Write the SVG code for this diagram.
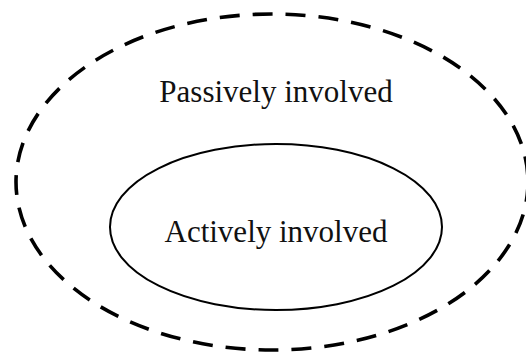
<svg xmlns="http://www.w3.org/2000/svg" width="526" height="352" viewBox="0 0 526 352">
<style>
.lbl{font-family:"Liberation Serif","Times New Roman",serif;font-size:31px;fill:#111;text-anchor:middle}
.outer{fill:none;stroke:#000;stroke-width:3.6;stroke-dasharray:20 13}
.inner{fill:none;stroke:#000;stroke-width:2}
</style>
<rect width="526" height="352" fill="#fff"/>
<g id="passive">
<ellipse class="outer" cx="272" cy="182" rx="256" ry="168"/>
<text class="lbl" x="276" y="102">Passively involved</text>
</g>
<g id="active">
<ellipse class="inner" cx="276" cy="227" rx="166" ry="83"/>
<text class="lbl" x="276" y="242">Actively involved</text>
</g>
<g id="connectors"/>
</svg>
